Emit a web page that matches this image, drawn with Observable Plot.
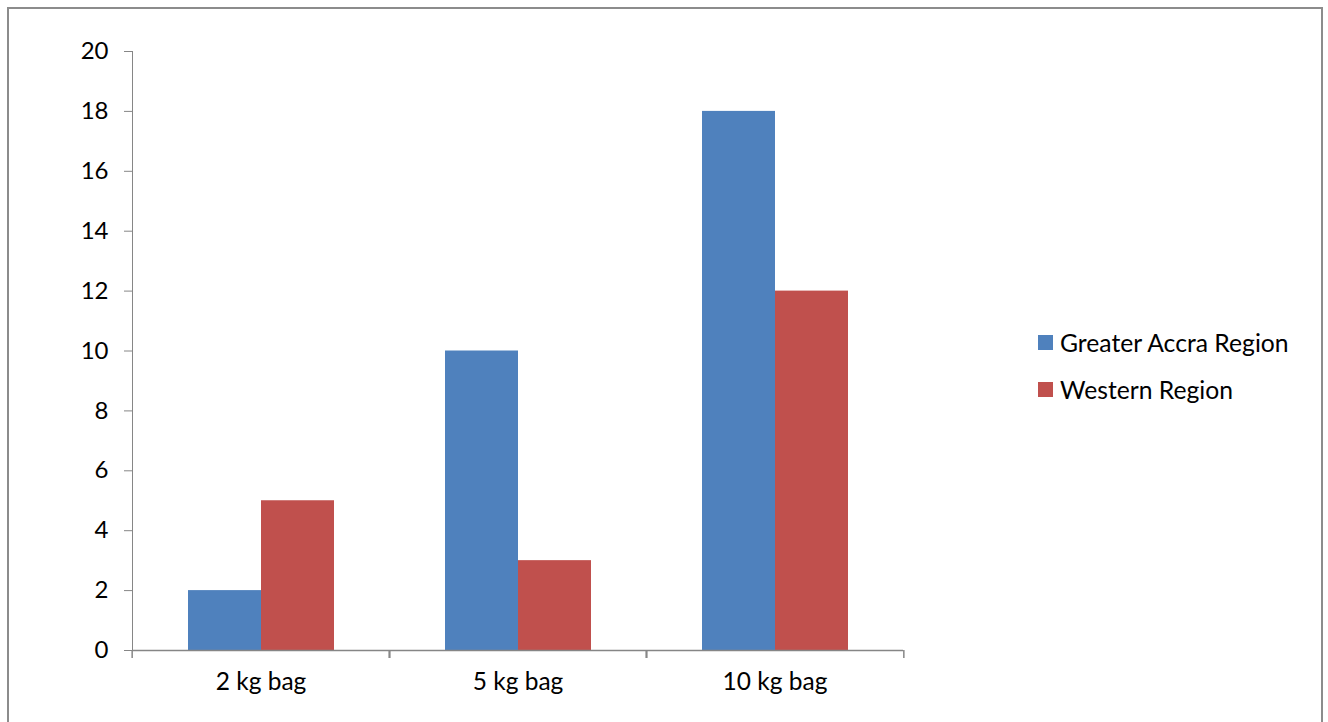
<!DOCTYPE html>
<html>
<head>
<meta charset="utf-8">
<script src="https://cdn.jsdelivr.net/npm/d3@7"></script>
<script src="https://cdn.jsdelivr.net/npm/@observablehq/plot@0.6"></script>
<style>
  body { margin: 0; background: #fff; font-family: Lato, "Open Sans", sans-serif; }
  #wrap { position: relative; width: 1328px; height: 722px; overflow: hidden; background: #fff; }
  #border { position: absolute; left: 7px; top: 7px; width: 1316px; height: 760px; border: 2px solid #8c8c8c; box-sizing: border-box; }
  #chart { position: absolute; left: 0; top: 0; }
  #chart svg text { fill: #000; }
  #legend { position: absolute; left: 1038px; top: 319px; font-size: 24.7px; color: #000; }
  .item { display: flex; align-items: center; height: 47px; white-space: nowrap; }
  .sw { width: 15px; height: 15px; margin-right: 7px; flex: none; }
</style>
</head>
<body>
<div id="wrap">
  <div id="border"></div>
  <div id="chart"></div>
  <div id="legend"></div>
</div>
<script>
const categories = ["2 kg bag", "5 kg bag", "10 kg bag"];
const series = ["Greater Accra Region", "Western Region"];
const greaterAccra = [2, 10, 18];
const western = [5, 3, 12];
const yTicks = [0, 2, 4, 6, 8, 10, 12, 14, 16, 18, 20];
const colors = ["#4F81BD", "#C0504D"];

const data = categories.flatMap((c, i) => [
  {category: c, series: series[0], value: greaterAccra[i]},
  {category: c, series: series[1], value: western[i]}
]);

const W = 1328, H = 722, mL = 131, mR = 424, mT = 51, mB = 72;
const band = (W - mL - mR) / categories.length;
const axisGray = "#868686";

const plot = Plot.plot({
  width: W, height: H,
  marginLeft: mL, marginRight: mR, marginTop: mT, marginBottom: mB,
  style: {fontFamily: "Lato, 'Open Sans', sans-serif", fontSize: "24px", color: axisGray, background: "transparent", overflow: "visible"},
  fx: {domain: categories, padding: 0, label: null},
  x: {domain: series, paddingInner: 0, paddingOuter: 0.757, axis: null},
  y: {domain: [0, 20], ticks: yTicks, label: null, line: true, tickSize: 8, tickPadding: 16},
  color: {domain: series, range: colors},
  marks: [
    Plot.barY(data, {fx: "category", x: "series", y: "value", fill: "series"}),
    Plot.ruleY([0], {stroke: axisGray, strokeWidth: 1.5}),
    Plot.axisFx({anchor: "bottom", tickSize: 0, tickPadding: 22, label: null, fill: "#000", fontSize: "24.5px"}),
    Plot.axisFx({anchor: "bottom", tickSize: 8, fill: "none", stroke: axisGray, strokeWidth: 1.5, dx: -band / 2, label: null}),
    Plot.axisFx({anchor: "bottom", tickSize: 8, fill: "none", stroke: axisGray, strokeWidth: 1.5, dx: band / 2, label: null})
  ]
});
document.getElementById("chart").appendChild(plot);

const legend = d3.select("#legend");
series.forEach((s, i) => {
  const row = legend.append("div").attr("class", "item");
  row.append("div").attr("class", "sw").style("background", colors[i]);
  row.append("span").text(s);
});
</script>
</body>
</html>
